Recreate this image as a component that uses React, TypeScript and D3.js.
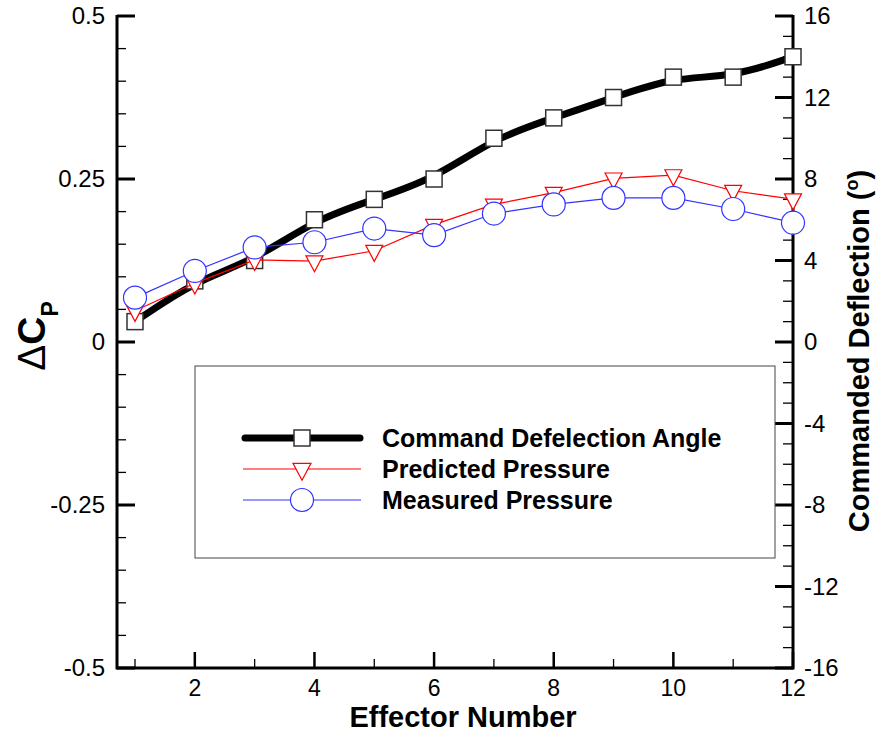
import React from "react";
import * as d3 from "d3";

const effectors = [1, 2, 3, 4, 5, 6, 7, 8, 9, 10, 11, 12];
const commandDeflection = [1, 3, 4, 6, 7, 8, 10, 11, 12, 13, 13, 14];
const predictedPressure = [0.048, 0.09, 0.126, 0.124, 0.14, 0.18, 0.211, 0.229, 0.251, 0.256, 0.232, 0.219];
const measuredPressure = [0.068, 0.109, 0.145, 0.153, 0.174, 0.164, 0.197, 0.211, 0.221, 0.221, 0.204, 0.183];

const xTickLabels = [2, 4, 6, 8, 10, 12];
const leftTickLabels = [-0.5, -0.25, 0, 0.25, 0.5];
const rightTickLabels = [-16, -12, -8, -4, 0, 4, 8, 12, 16];

const legendLabels = ["Command Defelection Angle", "Predicted Pressure", "Measured Pressure"];

const FONT = "'Liberation Sans', Arial, Helvetica, sans-serif";

export default function App() {
  const W = 879, H = 738;
  const x = d3.scaleLinear().domain([1, 12]).range([135, 793]);
  const yL = d3.scaleLinear().domain([-0.5, 0.5]).range([668, 16]);
  const yR = d3.scaleLinear().domain([-16, 16]).range([668, 16]);
  const leftX = 117;
  const rightX = 793;
  const bottomY = 668;

  const defLine = d3.line<number>().x((_, i) => x(effectors[i])).y((d) => yR(d)).curve(d3.curveBasis);
  const pLine = d3.line<number>().x((_, i) => x(effectors[i])).y((d) => yL(d));

  const leftMinor = d3.range(0, 21).map((i) => -0.5 + i * 0.05);
  const rightMinor = d3.range(-16, 17, 1);
  const xMinor = d3.range(1, 13, 1);

  const fmtL = (v: number) => (v === 0 ? "0" : String(v));

  const tri = (cx: number, cy: number, w = 17, h = 16) =>
    `M${cx - w / 2},${cy - h / 3}L${cx + w / 2},${cy - h / 3}L${cx},${cy + (2 * h) / 3}Z`;

  const red = "#ff0000";
  const blue = "#3333ff";

  return (
    <svg width={W} height={H} style={{ position: "absolute", left: 0, top: 0, background: "#fff" }} fontFamily={FONT}>
      <rect x={0} y={0} width={W} height={H} fill="#fff" />

      {/* Left axis */}
      <line x1={leftX} x2={leftX} y1={yL(0.5) - 1} y2={bottomY + 1.5} stroke="#000" strokeWidth={3} />
      {leftMinor.map((v, i) => {
        const major = i % 5 === 0;
        return (
          <line key={"lm" + i} x1={leftX} x2={leftX + (major ? 18 : 9)} y1={yL(v)} y2={yL(v)} stroke="#000" strokeWidth={major ? 3 : 1.3} />
        );
      })}
      {leftTickLabels.map((v) => (
        <text key={"ll" + v} x={105} y={yL(v)} dy="0.35em" textAnchor="end" fontSize={24} fill="#000">
          {fmtL(v)}
        </text>
      ))}

      {/* Right axis */}
      <line x1={rightX} x2={rightX} y1={yR(16) - 1} y2={bottomY + 1.5} stroke="#000" strokeWidth={3} />
      {rightMinor.map((v) => {
        const major = v % 4 === 0;
        return (
          <line key={"rm" + v} x1={rightX} x2={rightX - (major ? 18 : 10)} y1={yR(v)} y2={yR(v)} stroke="#000" strokeWidth={major ? 3 : 1.3} />
        );
      })}
      {rightTickLabels.map((v) => (
        <text key={"rl" + v} x={804} y={yR(v)} dy="0.35em" textAnchor="start" fontSize={24} fill="#000">
          {String(v)}
        </text>
      ))}

      {/* Bottom axis */}
      <line x1={leftX} x2={rightX} y1={bottomY} y2={bottomY} stroke="#000" strokeWidth={3} />
      {xMinor.map((v) => {
        const major = v % 2 === 0;
        return (
          <line key={"xm" + v} x1={x(v)} x2={x(v)} y1={bottomY} y2={bottomY - (major ? 16 : 9)} stroke="#000" strokeWidth={major ? 2.5 : 1.3} />
        );
      })}
      {xTickLabels.map((v) => (
        <text key={"xl" + v} x={x(v)} y={696} textAnchor="middle" fontSize={23} fill="#000">
          {String(v)}
        </text>
      ))}

      {/* Axis titles */}
      <text x={463} y={727} textAnchor="middle" fontSize={29} fontWeight="bold" fill="#000">
        Effector Number
      </text>
      <text transform="translate(869,351) rotate(-90)" textAnchor="middle" fontSize={29} fontWeight="bold" fill="#000">
        Commanded Deflection (<tspan fontSize={18} dy={-11}>o</tspan>
        <tspan dy={11}>)</tspan>
      </text>
      <text transform="translate(45,336) rotate(-90)" textAnchor="middle" fontSize={39} fill="#000">
        <tspan fontWeight="normal">Δ</tspan>
        <tspan fontWeight="bold">C</tspan>
        <tspan fontWeight="bold" fontSize={23} dy={13}>P</tspan>
      </text>

      {/* Command deflection series */}
      <path d={defLine(commandDeflection) || ""} fill="none" stroke="#000" strokeWidth={7} strokeLinejoin="round" />
      {commandDeflection.map((d, i) => (
        <rect key={"sq" + i} x={x(effectors[i]) - 8} y={yR(d) - 8} width={16} height={16} fill="#fff" stroke="#333" strokeWidth={1.5} />
      ))}

      {/* Predicted pressure */}
      <path d={pLine(predictedPressure) || ""} fill="none" stroke={red} strokeWidth={1.2} />
      {predictedPressure.map((v, i) => (
        <path key={"tr" + i} d={tri(x(effectors[i]), yL(v))} fill="#fff" stroke={red} strokeWidth={1.2} />
      ))}

      {/* Measured pressure */}
      <path d={pLine(measuredPressure) || ""} fill="none" stroke={blue} strokeWidth={1.2} />
      {measuredPressure.map((v, i) => (
        <circle key={"ci" + i} cx={x(effectors[i])} cy={yL(v)} r={11.5} fill="#fff" stroke={blue} strokeWidth={1.2} />
      ))}

      {/* Legend */}
      <rect x={195} y={366} width={580} height={192} fill="#fff" stroke="#444" strokeWidth={1} />
      <line x1={245} x2={360} y1={438} y2={438} stroke="#000" strokeWidth={7} strokeLinecap="round" />
      <rect x={294} y={430} width={16} height={16} fill="#fff" stroke="#333" strokeWidth={1.5} />
      <line x1={243} x2={361} y1={469} y2={469} stroke={red} strokeWidth={1.2} />
      <path d={tri(302, 469, 18, 17)} fill="#fff" stroke={red} strokeWidth={1.2} />
      <line x1={243} x2={361} y1={500} y2={500} stroke={blue} strokeWidth={1.2} />
      <circle cx={302} cy={500} r={11.5} fill="#fff" stroke={blue} strokeWidth={1.2} />
      {legendLabels.map((t, i) => (
        <text key={"lg" + i} x={382} y={438 + i * 31} dy="0.35em" fontSize={25} fontWeight="bold" fill="#000">
          {t}
        </text>
      ))}
    </svg>
  );
}
